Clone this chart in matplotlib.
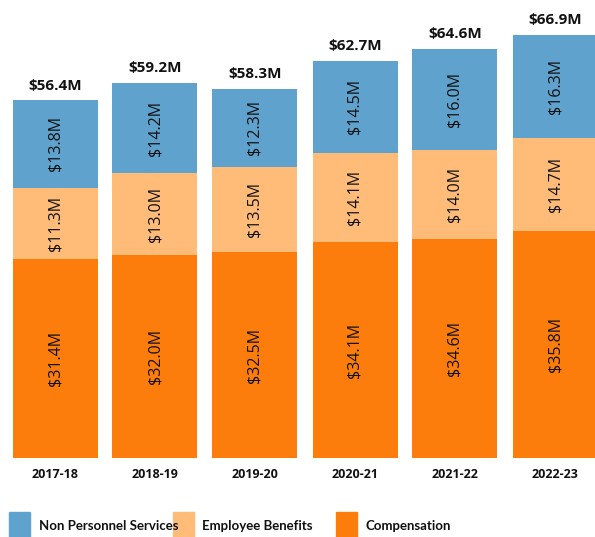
import matplotlib.pyplot as plt
from matplotlib.patches import Rectangle

years = ['2017-18', '2018-19', '2019-20', '2020-21', '2021-22', '2022-23']
compensation = [31.4, 32.0, 32.5, 34.1, 34.6, 35.8]
benefits = [11.3, 13.0, 13.5, 14.1, 14.0, 14.7]
non_personnel = [13.8, 14.2, 12.3, 14.5, 16.0, 16.3]
totals = [56.4, 59.2, 58.3, 62.7, 64.6, 66.9]

c_comp = '#fc7d0b'
c_ben = '#ffbc79'
c_nps = '#5fa2ce'

plt.rcParams['font.family'] = ['Open Sans', 'DejaVu Sans']

fig = plt.figure(figsize=(5.95, 5.37), dpi=100)
ax = fig.add_axes([0, 1 - 458 / 537, 1, 456 / 537])

x = range(len(years))
w = 0.85
bottom2 = [a + b for a, b in zip(compensation, benefits)]
b1 = ax.bar(x, compensation, w, color=c_comp)
b2 = ax.bar(x, benefits, w, bottom=compensation, color=c_ben)
b3 = ax.bar(x, non_personnel, w, bottom=bottom2, color=c_nps)

for bars, vals, bots in [(b1, compensation, [0] * 6), (b2, benefits, compensation), (b3, non_personnel, bottom2)]:
    for rect, v, b in zip(bars, vals, bots):
        ax.text(rect.get_x() + rect.get_width() / 2, b + v / 2, f'${v:.1f}M',
                rotation=90, ha='center', va='center', fontsize=11.5, color='#111111')

for i, t in enumerate(totals):
    top = bottom2[i] + non_personnel[i]
    ax.text(i, top + 1.2, f'${t:.1f}M', ha='center', va='bottom',
            fontsize=11, fontweight='bold', color='#111111')

ax.set_xlim(-0.55, 5.4)
ax.set_ylim(0, 72)
ax.axis('off')

for i, yr in enumerate(years):
    fig.text((55 + 100 * i) / 595, 1 - 475 / 537, yr, ha='center', va='center',
             fontsize=9, fontweight='bold', color='#111111')

# legend
items = [('Non Personnel Services', c_nps, 9, 39),
         ('Employee Benefits', c_ben, 173, 202),
         ('Compensation', c_comp, 336, 365)]
for label, col, px, tx in items:
    fig.patches.append(Rectangle((px / 595, 0), 21 / 595, 25 / 537,
                                 transform=fig.transFigure, color=col))
    fig.text(tx / 595, 1 - 526 / 537, label, ha='left', va='center',
             fontsize=9.5, fontweight='bold', color='#111111', family=['Lato', 'DejaVu Sans'])

fig.savefig('out.png', dpi=100)
